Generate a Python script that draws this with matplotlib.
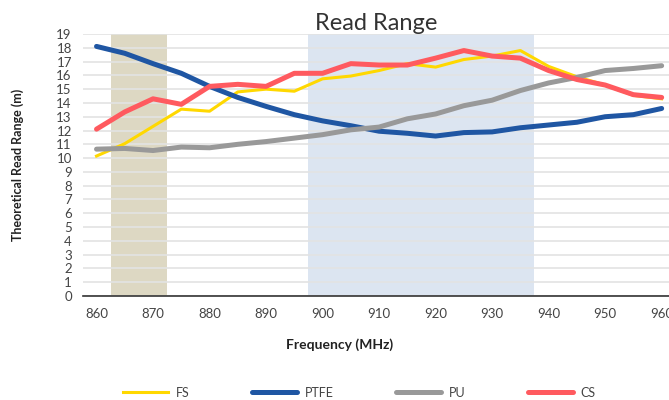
import matplotlib
matplotlib.use('Agg')
import matplotlib.pyplot as plt

# Dados
frequencia = [860, 865, 870, 875, 880, 885, 890, 895, 900, 905, 910,
              915, 920, 925, 930, 935, 940, 945, 950, 955, 960]
fs = [10.15, 11.05, 12.3, 13.55, 13.4, 14.8, 15.0, 14.85, 15.75, 15.95, 16.35,
      16.85, 16.6, 17.15, 17.4, 17.8, 16.65, 15.9, 15.3, 14.55, 14.3]
ptfe = [18.1, 17.6, 16.85, 16.15, 15.2, 14.4, 13.75, 13.15, 12.7, 12.35, 11.95,
        11.8, 11.6, 11.85, 11.9, 12.2, 12.4, 12.6, 13.0, 13.15, 13.6]
pu = [10.65, 10.7, 10.55, 10.8, 10.75, 11.0, 11.2, 11.45, 11.7, 12.05, 12.25,
      12.85, 13.2, 13.8, 14.2, 14.9, 15.45, 15.85, 16.35, 16.5, 16.7]
cs = [12.1, 13.35, 14.3, 13.9, 15.2, 15.35, 15.2, 16.15, 16.15, 16.85, 16.75,
      16.75, 17.25, 17.8, 17.4, 17.25, 16.35, 15.7, 15.3, 14.6, 14.4]
faixas = [(862.5, 872.5), (897.5, 937.5)]
cores_faixas = ['#ddd8c3', '#dce5f1']

plt.rcParams['font.family'] = ['Lato', 'DejaVu Sans']

fig = plt.figure(figsize=(6.69, 4.0), dpi=100)
ax = fig.add_axes([0.124, 0.26, 0.876, 0.655])

# Faixas de fundo
for (ini, fim), cor in zip(faixas, cores_faixas):
    ax.axvspan(ini, fim, color=cor, zorder=0, lw=0)

# Linhas
ax.plot(frequencia, fs, color='#ffd800', lw=2.2, label='FS', zorder=3)
ax.plot(frequencia, ptfe, color='#1f56a3', lw=3.6, label='PTFE', zorder=3,
        solid_capstyle='round')
ax.plot(frequencia, pu, color='#999999', lw=3.6, label='PU', zorder=3,
        solid_capstyle='round')
ax.plot(frequencia, cs, color='#ff5a5f', lw=3.6, label='CS', zorder=4,
        solid_capstyle='round')

# Eixos e grade
ax.set_xlim(857.6, 961.3)
ax.set_ylim(0, 19)
ax.set_yticks(range(0, 20))
ax.set_xticks(range(860, 961, 10))
ax.grid(axis='y', color='#e3e3e3', lw=1.2, zorder=1)
ax.set_axisbelow(True)
for lado in ['top', 'right', 'left']:
    ax.spines[lado].set_visible(False)
ax.spines['bottom'].set_color('#333333')
ax.spines['bottom'].set_linewidth(1.2)
ax.spines['bottom'].set_zorder(5)
ax.tick_params(length=0, labelsize=9.5, labelcolor='#444444')
ax.tick_params(axis='x', pad=9)
ax.tick_params(axis='y', pad=8)

# Títulos
ax.set_title('Read Range', fontsize=17, color='#333333', pad=1)
fig.text(0.508, 0.138, 'Frequency (MHz)', ha='center', va='center',
         fontsize=10, fontweight='bold', color='#222222')
fig.text(0.026, 0.5875, 'Theoretical Read Range (m)', ha='center', va='center',
         rotation=90, fontsize=9, fontweight='bold', color='#222222')

# Legenda
fig.legend(loc='center', bbox_to_anchor=(0.537, 0.018), ncol=4, frameon=False,
           fontsize=9, handlelength=3.6, columnspacing=5.0, handletextpad=0.6,
           labelcolor='#444444')

plt.savefig('out.png', dpi=100)
